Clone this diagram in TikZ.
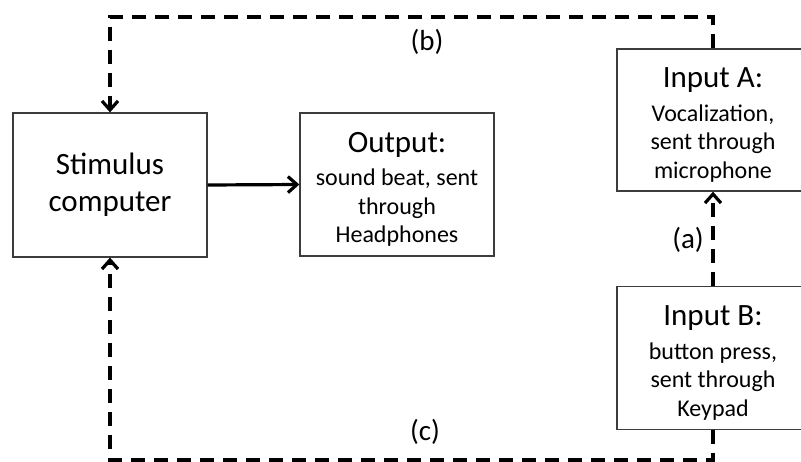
\documentclass[tikz,border=0pt]{standalone}
\usepackage{fontspec}
\setmainfont{Carlito}
\usepackage{tikz}
\usetikzlibrary{arrows.meta, positioning, calc}
\definecolor{boxline}{RGB}{60,60,60}
\newcommand{\blocktitle}[1]{{\fontsize{31}{34}\selectfont\rule{0pt}{30pt}#1}\\[5pt]}

\begin{document}
\begin{tikzpicture}[
        x=1pt, y=-1pt,
        % Styles for nodes
        block/.style={
            rectangle, draw=boxline, line width=1.3pt, fill=white,
            minimum width=194pt, minimum height=144pt,
            align=center, inner sep=0pt,
            font=\fontsize{24}{28.5}\selectfont
        },
        tag/.style={
            font=\fontsize{29}{32}\selectfont, inner sep=0pt
        },
        % Styles for connecting lines
        signal/.style={
            draw=black, line width=3.2pt,
            -{Straight Barb[length=9pt, width=16pt]}
        },
        feedback/.style={
            signal, dash pattern=on 14pt off 9pt
        }
    ]

    \useasboundingbox (0,0) rectangle (801,461);

    % 1. BLOCKS
    \node[block, font=\fontsize{31}{37}\selectfont] (Stim) at (110,185)
        {Stimulus\\computer};
    \node[block, minimum height=143pt] (Out) at (397,184.5)
        {\blocktitle{Output:}sound beat, sent\\through\\Headphones};
    \node[block, minimum width=192pt, minimum height=142pt] (InA) at (713,120)
        {\blocktitle{Input A:}Vocalization,\\sent through\\microphone};
    \node[block, minimum width=192pt, minimum height=143pt] (InB) at (713,358)
        {\blocktitle{Input B:}button press,\\sent through\\Keypad};

    % 2. CORNERS OF THE LOOPS
    \coordinate (TopR) at (713,17);
    \coordinate (BotR) at (713,460);

    % 3. CONNECTORS
    % Stimulus --> Output
    \draw[signal] (Stim.east) -- (Out.west);

    % Input B --> Input A
    \draw[feedback] (InB.north) -- (InA.south);

    % Input A --> Stimulus (over the top)
    \draw[feedback] (InA.north) -- (TopR) -| (Stim.north);

    % Input B --> Stimulus (under the bottom)
    \draw[feedback] (InB.south) -- (BotR) -| (Stim.south);

    % 4. LABELS
    \node[tag] (LabA) at (688,240) {(a)};
    \node[tag] (LabB) at (427,42)  {(b)};
    \node[tag] (LabC) at (425,432) {(c)};

    \end{tikzpicture}
\end{document}
